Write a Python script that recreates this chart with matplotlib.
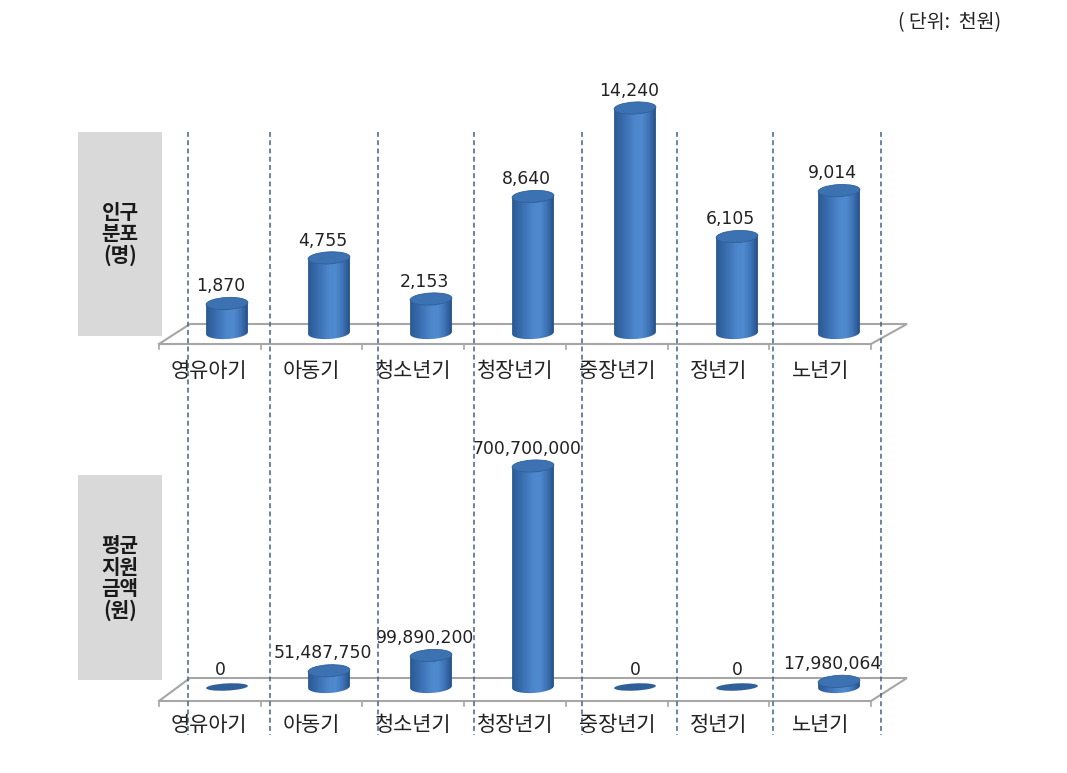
import numpy as np
import matplotlib
matplotlib.use("Agg")
import matplotlib.pyplot as plt
from matplotlib.patches import Ellipse, PathPatch, Rectangle
from matplotlib.path import Path
from matplotlib.colors import LinearSegmentedColormap
from matplotlib.transforms import IdentityTransform

plt.rcParams['font.family'] = ['Noto Sans CJK KR', 'DejaVu Sans']

categories = ['영유아기', '아동기', '청소년기', '청장년기', '중장년기', '정년기', '노년기']
population = [1870, 4755, 2153, 8640, 14240, 6105, 9014]
support = [0, 51487750, 99890200, 700700000, 0, 0, 17980064]
panel_titles = ['인구\n분포\n(명)', '평균\n지원\n금액\n(원)']
unit_text = '( 단위:  천원)'

W, H = 1067, 773
fig = plt.figure(figsize=(W / 100, H / 100), dpi=100, facecolor='white')


def px_axes(left, right, top, bottom):
    return fig.add_axes([left / W, 1 - bottom / H, (right - left) / W, (bottom - top) / H])


def overlay():
    a = fig.add_axes([0, 0, 1, 1], facecolor='none')
    a.set_xlim(0, W)
    a.set_ylim(H, 0)
    a.axis('off')
    return a


cyl = LinearSegmentedColormap.from_list(
    'cyl', ['#2b5a92', '#3568a8', '#4177ba', '#4d87cb', '#4f8ad0', '#3f74b6', '#24508a'])
grad = np.linspace(0, 1, 64).reshape(1, -1)

X0 = 227          # px of first category
DX = 102          # px per category
BAR_W = 0.41      # in category units
ELL_PX = 12       # ellipse height, px
TILT = 3.0        # degrees
SLOPE = np.tan(np.radians(TILT))


def panel(values, base_y, px_per_unit, centred=()):
    top_px, bot_px = base_y - 250, base_y + 15
    left_px, right_px = X0 - 0.5 * DX, X0 + 6.5 * DX
    ax = px_axes(left_px, right_px, top_px, bot_px)
    ax.set_xlim(-0.5, 6.5)
    ylim = (-(bot_px - base_y) / px_per_unit, (base_y - top_px) / px_per_unit)
    ax.set_ylim(*ylim)
    ax.axis('off')
    eh = ELL_PX / px_per_unit
    hw = BAR_W / 2
    t = np.linspace(np.pi, 2 * np.pi, 40)
    for i, v in enumerate(values):
        cx, cy = ax.transData.transform((i, v))
        if v == 0:
            ax.add_patch(Ellipse((cx, cy), 2 * hw * DX, ELL_PX * 0.6, angle=TILT, fc='#2f6099',
                                 ec='none', zorder=3, transform=IdentityTransform()))
        else:
            tilt = lambda x: (x - i) * DX * SLOPE / px_per_unit
            bx = i + hw * np.cos(t)
            by = eh / 2 * np.sin(t) + tilt(bx)
            tx = bx[::-1]
            ty = v + tilt(tx)
            pts = np.column_stack([np.r_[bx, tx], np.r_[by, ty]])
            clip = PathPatch(Path(np.vstack([pts, pts[0]]), closed=True), fc='none', ec='none')
            ax.add_patch(clip)
            im = ax.imshow(grad, extent=(i - hw, i + hw, -eh, v + eh), aspect='auto', cmap=cyl, zorder=3)
            im.set_clip_path(clip)
            ax.add_patch(Ellipse((cx, cy), 2 * hw * DX, ELL_PX, angle=TILT, fc='#3c71b2', ec='#2f6099',
                                 lw=0.6, zorder=4, transform=IdentityTransform()))
        ax.annotate(f'{v:,}', (i, v), xytext=(0 if i in centred else -4.5, 6),
                    textcoords='offset points', ha='center', va='bottom',
                    fontsize=12.4, color='#222222', family='DejaVu Sans', zorder=6)
    ax.set_xlim(-0.5, 6.5)
    ax.set_ylim(*ylim)
    return ax


ax1 = panel(population, 333, 225 / 14240)
ax2 = panel(support, 687, 221 / 700700000, centred=(4, 5))

ov = overlay()
ov.set_zorder(-1)
fg = overlay()
fg.set_zorder(5)

floor = '#a6a6a6'
for front, back in ((344, 324), (701, 678)):
    ov.plot([159, 871, 907, 190, 159], [front, front, back, back, front], color=floor, lw=1.5,
            solid_joinstyle='miter')
    for i in range(8):
        xt = 159 + i * (871 - 159) / 7
        ov.plot([xt, xt], [front, front + 5], color=floor, lw=1.2)

for x in (188, 270, 378, 474, 582, 677, 773, 881):
    fg.plot([x, x], [132, 735], color='#3f6490', lw=1.1, ls=(0, (3.2, 2.2)))

for y0, y1, title, yc in ((132, 336, panel_titles[0], 234), (475, 680, panel_titles[1], 578)):
    ov.add_patch(Rectangle((78, y0), 84, y1 - y0, fc='#d9d9d9', ec='none'))
    ov.text(120, yc, title, ha='center', va='center', fontsize=14.5, fontweight='bold',
            color='#1a1a1a', linespacing=1.02)

for y in (371, 725):
    for i, c in enumerate(categories):
        fg.text(X0 - 18 + i * DX, y, c, ha='center', va='center', fontsize=15, color='#222222')

fg.text(1001, 23, unit_text, ha='right', va='center', fontsize=14, color='#222222')

fig.savefig('out.png', dpi=100)
